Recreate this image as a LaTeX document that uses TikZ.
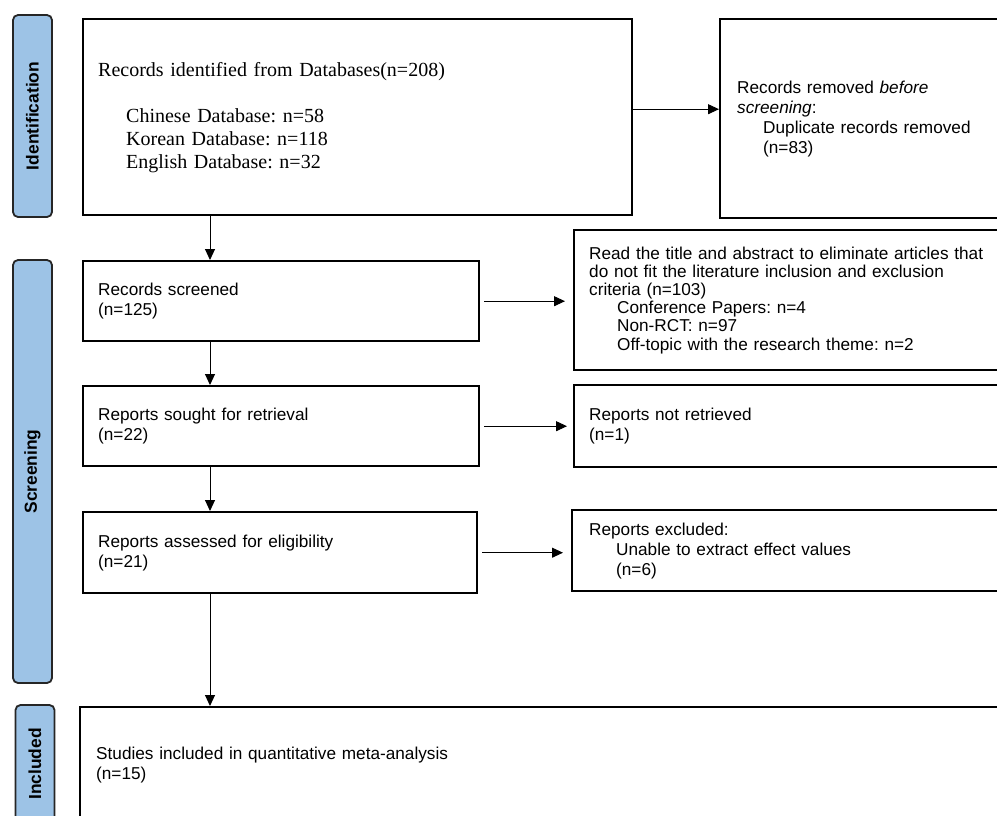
\documentclass[tikz,border=0pt]{standalone}
\usepackage{fontspec}
\setmainfont{Liberation Serif}
\setsansfont{Liberation Sans}
\usepackage{tikz}
\usepackage{xcolor}
\usetikzlibrary{
    arrows.meta,
    calc,
    positioning
}
\frenchspacing
\definecolor{phaseblue}{HTML}{9DC3E6}
\tikzset{
    box/.style={draw, line width=1.2pt, anchor=north west, inner xsep=7.5pt, inner ysep=0pt,
        align=left, font=\sffamily\fontsize{8.6}{10}\selectfont},
    phase/.style={draw=black!85, line width=0.9pt, fill=phaseblue, rounded corners=2.5pt,
        rotate=90, minimum height=19.5pt, inner sep=0pt, font=\sffamily\bfseries\fontsize{8.7}{10}\selectfont},
    arr/.style={line width=0.5pt, -{Triangle[length=5.5pt,width=5pt]}}
}

\begin{document}
\begin{tikzpicture}[x=0.5pt, y=-0.5pt]
                        \useasboundingbox (0,0) rectangle (997,815);
                        \clip (0,0) rectangle (997,815);

                        \node[phase, minimum width=101pt] (idlabel) at (32.5, 116) {Identification};
                        \node[phase, minimum width=211.5pt] (scrlabel) at (32.5, 471.5) {Screening};
                        \node[phase, minimum width=59pt] (inclabel) at (35, 764) {Included};

                        \node[box, minimum width=274.5pt, minimum height=98pt, text width=259.5pt,
                            font=\rmfamily\fontsize{10}{11.5}\selectfont] (ident) at (82, 18)
                            {Records identified from Databases(n=208)\\[11.5pt]
                             \hspace*{14pt}Chinese Database: n=58\\
                             \hspace*{14pt}Korean Database: n=118\\
                             \hspace*{14pt}English Database: n=32};
                        \node[box, inner xsep=8.5pt, minimum width=150pt, minimum height=99.5pt, text width=133pt] (removed) at (719, 18)
                            {Records removed \textit{before}\\
                             \textit{screening}:\\
                             \hspace*{13pt}Duplicate records removed\\
                             \hspace*{13pt}(n=83)};

                        \node[box, minimum width=198pt, minimum height=40pt, text width=183pt] (screened) at (82, 260)
                            {Records screened\\(n=125)};
                        \node[box, minimum width=240pt, minimum height=70pt, text width=225pt,
                            font=\sffamily\fontsize{8.6}{9.1}\selectfont] (readtitle) at (573, 229)
                            {Read the title and abstract to eliminate articles that\\
                             do not fit the literature inclusion and exclusion\\
                             criteria (n=103)\\
                             \hspace*{14pt}Conference Papers: n=4\\
                             \hspace*{14pt}Non-RCT: n=97\\
                             \hspace*{14pt}Off-topic with the research theme: n=2};

                        \node[box, minimum width=198pt, minimum height=40pt, text width=183pt] (sought) at (82, 385)
                            {Reports sought for retrieval\\(n=22)};
                        \node[box, minimum width=240pt, minimum height=41pt, text width=225pt] (notret) at (573, 384)
                            {Reports not retrieved\\(n=1)};

                        \node[box, minimum width=197pt, minimum height=40.5pt, text width=182pt] (assessed) at (82, 511)
                            {Reports assessed for eligibility\\(n=21)};
                        \node[box, inner xsep=8.5pt, minimum width=240pt, minimum height=40.5pt, text width=223pt] (excluded) at (571, 509)
                            {Reports excluded:\\
                             \hspace*{13.5pt}Unable to extract effect values\\
                             \hspace*{13.5pt}(n=6)};

                        \node[box, inner xsep=8pt, minimum width=470pt, minimum height=58pt, text width=454pt] (included) at (79, 706)
                            {Studies included in quantitative meta-analysis\\(n=15)};

                        % down the main column
                        \draw[arr] ([xshift=64pt]ident.south west) -- ([xshift=64pt]screened.north west);
                        \draw[arr] ([xshift=64pt]screened.south west) -- ([xshift=64pt]sought.north west);
                        \draw[arr] ([xshift=64pt]sought.south west) -- ([xshift=64pt]assessed.north west);
                        \draw[arr] ([xshift=64pt]assessed.south west) -- ([xshift=64pt]assessed.south west |- included.north);

                        % out to the right
                        \draw[arr] ([yshift=4pt]ident.east) -- ([yshift=4pt]ident.east -| removed.west);
                        \draw[arr, shorten <=2pt, shorten >=4pt] (screened.east) -- (screened.east -| readtitle.west);
                        \draw[arr, shorten <=2pt, shorten >=3pt] (sought.east) -- (sought.east -| notret.west);
                        \draw[arr, shorten <=2pt, shorten >=4pt] (assessed.east) -- (assessed.east -| excluded.west);
                    \end{tikzpicture}
\end{document}
